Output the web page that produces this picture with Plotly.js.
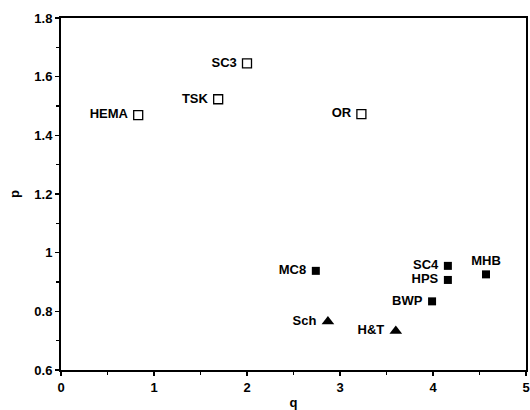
<!DOCTYPE html>
<html>
<head>
<meta charset="utf-8">
<script src="https://cdn.plot.ly/plotly-3.0.1.min.js"></script>
<style>
  html, body { margin: 0; padding: 0; background: #fff; }
  #chart { width: 530px; height: 410px; }
</style>
</head>
<body>
<div id="chart"></div>
<script>
// Open-square group
const openNames = ['HEMA', 'TSK', 'SC3', 'OR'];
const openQ = [0.83, 1.69, 2.0, 3.23];
const openP = [1.469, 1.523, 1.645, 1.472];

// Filled-square group
const filledNames = ['MC8', 'SC4', 'HPS', 'BWP', 'MHB'];
const filledQ = [2.74, 4.16, 4.16, 3.99, 4.57];
const filledP = [0.938, 0.955, 0.907, 0.834, 0.926];

// Triangle group
const triNames = ['Sch', 'H&T'];
const triQ = [2.87, 3.60];
const triP = [0.765, 0.733];

// Axis ticks
const qTicks = [0, 1, 2, 3, 4, 5];
const pTicks = [0.6, 0.8, 1, 1.2, 1.4, 1.6, 1.8];
const pTickText = ['0.6', '0.8', '1', '1.2', '1.4', '1.6', '1.8'];

const FONT = 'Liberation Sans, Arial, Helvetica, sans-serif';
const labelFont = { family: FONT, size: 13, color: '#000', weight: 'bold' };

// labels sit left of their marker with a small gap; MHB sits above
const gapLeft = n => n + '\u00a0';

const traces = [
  {
    type: 'scatter', mode: 'markers+text',
    x: openQ, y: openP, text: openNames.map(gapLeft),
    textposition: 'middle left',
    textfont: labelFont,
    marker: { symbol: 'square-open', size: 9, color: '#000', line: { width: 1.3, color: '#000' } },
    cliponaxis: false, hoverinfo: 'none'
  },
  {
    type: 'scatter', mode: 'markers+text',
    x: filledQ, y: filledP,
    text: filledNames.map(n => n === 'MHB' ? n : gapLeft(n)),
    textposition: filledNames.map(n => n === 'MHB' ? 'top center' : 'middle left'),
    textfont: labelFont,
    marker: { symbol: 'square', size: 8, color: '#000' },
    cliponaxis: false, hoverinfo: 'none'
  },
  {
    type: 'scatter', mode: 'markers+text',
    x: triQ, y: triP, text: triNames.map(gapLeft),
    textposition: 'middle left',
    textfont: labelFont,
    marker: { symbol: 'triangle-up', size: 11, color: '#000' },
    cliponaxis: false, hoverinfo: 'none'
  }
];

const tickFont = { family: FONT, size: 13, color: '#000', weight: 'bold' };

const layout = {
  width: 530, height: 410,
  margin: { l: 61, r: 4, t: 18, b: 40 },
  paper_bgcolor: '#fff', plot_bgcolor: '#fff',
  showlegend: false,
  xaxis: {
    range: [0, 5], tickvals: qTicks, ticktext: qTicks.map(String),
    showgrid: false, zeroline: false,
    showline: true, linecolor: '#000', linewidth: 2, mirror: true,
    ticks: 'outside', ticklen: 4, tickwidth: 1.5, tickcolor: '#000',
    minor: { dtick: 0.5, ticks: 'outside', ticklen: 3, tickwidth: 1.2, tickcolor: '#000', showgrid: false },
    tickfont: tickFont,
    title: { text: 'q', font: { family: FONT, size: 13, color: '#000', weight: 'bold' }, standoff: 6 }
  },
  yaxis: {
    range: [0.6, 1.8], tickvals: pTicks, ticktext: pTickText,
    showgrid: false, zeroline: false,
    showline: true, linecolor: '#000', linewidth: 2, mirror: true,
    ticks: 'outside', ticklen: 4, tickwidth: 1.5, tickcolor: '#000',
    minor: { dtick: 0.1, ticks: 'outside', ticklen: 3, tickwidth: 1.2, tickcolor: '#000', showgrid: false },
    tickfont: tickFont,
    title: { text: 'p', font: { family: FONT, size: 13, color: '#000', weight: 'bold' }, standoff: 12 }
  }
};

Plotly.newPlot('chart', traces, layout, { staticPlot: true, displayModeBar: false });
</script>
</body>
</html>
